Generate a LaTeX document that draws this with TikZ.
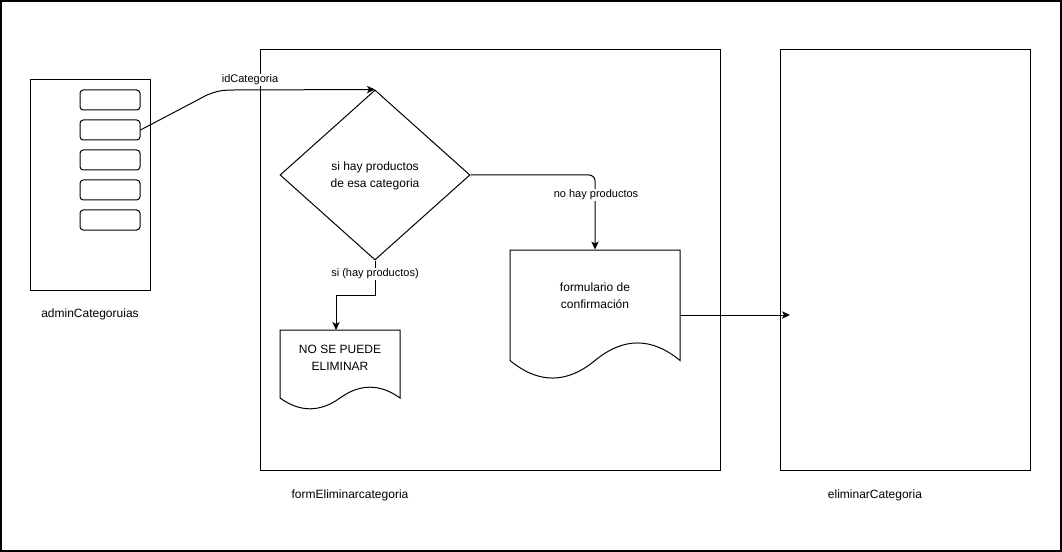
\documentclass[tikz,border=0pt]{standalone}
\usepackage{fontspec}
\setmainfont{Liberation Sans}
\usetikzlibrary{shapes.geometric,arrows.meta}
\begin{document}
\begin{tikzpicture}[x=0.75pt,y=-0.75pt,
  line width=0.75pt,
  box/.style={draw,rectangle,inner sep=0pt},
  slot/.style={draw,rectangle,rounded corners=2.5pt,minimum width=45pt,minimum height=15pt,inner sep=0pt},
  lbl/.style={font=\fontsize{9}{11}\selectfont,inner sep=0pt},
  elabel/.style={font=\fontsize{8.25}{10}\selectfont,fill=white,inner sep=1pt},
  ntext/.style={font=\fontsize{9}{12.75}\selectfont,align=center,inner sep=0pt},
  arr/.style={-{Stealth[length=6pt,width=5.5pt,inset=1.5pt]}},
  decision/.style={draw,diamond,aspect=1.1176,minimum width=142.5pt,minimum height=127.5pt,inner sep=0pt}
]
\useasboundingbox (0,0) rectangle (1062,552);
\draw[line width=1.4pt] (0.9,0.9) rectangle (1060.6,550.6);

% containers
\node[box,minimum width=90pt,minimum height=157.5pt] (admin) at (90,185) {};
\node[box,minimum width=345pt,minimum height=315pt] (form) at (490,260) {};
\node[box,minimum width=187.5pt,minimum height=315pt] (elim) at (905,260) {};
\node[lbl] (adminlbl) at (90,314) {adminCategoruias};
\node[lbl] (formlbl) at (350,495) {formEliminarcategoria};
\node[lbl] (elimlbl) at (875,495) {eliminarCategoria};

% slots
\node[slot] (r1) at (110,100) {};
\node[slot] (r2) at (110,130) {};
\node[slot] (r3) at (110,160) {};
\node[slot] (r4) at (110,190) {};
\node[slot] (r5) at (110,220) {};

% decision
\node[decision] (d) at (375,175) {};
\node[ntext] (dtext) at (375,176) {si hay productos\\de esa categoria};

% document: no se puede eliminar
\draw (280,330) -- (400,330) -- (400,398)
  .. controls (380,383.6) and (360,383.6) .. (340,398)
  .. controls (320,412.4) and (300,412.4) .. (280,398) -- cycle;
\node[ntext,minimum width=90pt,minimum height=42pt] (nsp) at (340,358) {NO SE PUEDE\\ELIMINAR};

% document: formulario de confirmacion
\draw (510,250) -- (680,250) -- (680,360.5)
  .. controls (651.67,337.1) and (623.33,337.1) .. (595,360.5)
  .. controls (566.67,383.9) and (538.33,383.9) .. (510,360.5) -- cycle;
\node[ntext,minimum width=127.5pt,minimum height=68.6pt] (fc) at (595,295.75) {formulario de\\confirmación};

\coordinate (nsptop) at (336,330);
\coordinate (fcout) at (680,315);
\coordinate (elimin) at (790,315);

% connectors
\draw[arr] (r2.east) -- (207,95) .. controls (217,91) and (222,90) .. (234,90) -- (d.north);
\node[elabel] (idlbl) at (250,80) {idCategoria};

\draw[arr] (d.south) -- (375,295) -- (336,295) -- (nsptop);
\node[elabel] (silbl) at (375,274) {si (hay productos)};

\draw[arr,rounded corners=4.5pt] (d.east) -- (595,175) -- (fc.north);
\node[elabel] (nolbl) at (596,195) {no hay productos};

\draw[arr] (fcout) -- (elimin);
\end{tikzpicture}
\end{document}
